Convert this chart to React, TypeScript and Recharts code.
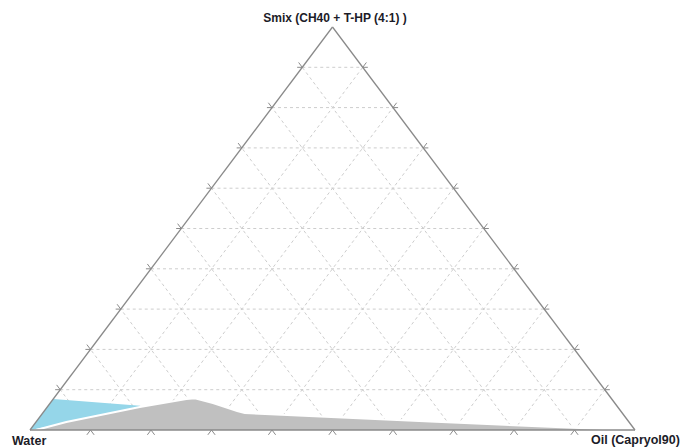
import React from 'react';
import { ScatterChart, Scatter, XAxis, YAxis } from 'recharts';

// ternary grid / tick levels (fractions of each component)
const levels = [0.1, 0.2, 0.3, 0.4, 0.5, 0.6, 0.7, 0.8, 0.9];

// region outlines, as % oil and % Smix (water = rest)
const grayOil = [1, 5, 15.3, 22, 23.3, 26.9, 31.9, 33.4, 65.1, 98.7];
const graySmix = [0, 2, 5.7, 7.7, 7.9, 6.7, 4.7, 4.2, 2.1, 0];
const blueOil = [0, 0, 15.2, 15.6, 6.4];
const blueSmix = [0, 7.7, 6.0, 5.6, 2.1];

const WATER_LABEL = 'Water';
const OIL_LABEL = 'Oil (Capryol90)';
const SMIX_LABEL = 'Smix (CH40 + T-HP (4:1) )';

type Pt = { x: number; y: number };

// oil / smix fractions -> cartesian (water at origin, oil at x=1, smix apex at y=1)
const tern = (oil: number, smix: number): Pt => ({ x: oil + smix / 2, y: smix });

const region = (oil: number[], smix: number[]) => oil.map((o, i) => tern(o / 100, smix[i] / 100));

const edgePts = [tern(0, 0), tern(1, 0), tern(1, 0), tern(0, 1), tern(0, 1), tern(0, 0)];

const gridPts = levels.flatMap((k) => [
  tern(0, k), tern(1 - k, k),
  tern(k, 0), tern(k, 1 - k),
  tern(1 - k, 0), tern(0, 1 - k),
]);

const TICK = 0.012;
const tickPts = levels.flatMap((k) => {
  const b = tern(k, 0);
  const l = tern(0, k);
  const r = tern(1 - k, k);
  return [
    b, { x: b.x - TICK / 2, y: -TICK }, b, { x: b.x + TICK / 2, y: -TICK },
    l, { x: l.x - TICK * 0.7, y: l.y }, l, { x: l.x - TICK / 2, y: l.y + TICK },
    r, { x: r.x + TICK * 0.7, y: r.y }, r, { x: r.x + TICK / 2, y: r.y + TICK },
  ];
});

// scatter "line" renderers: pairs of points -> segments, or a filled polygon
const segments = (stroke: string, width: number, dash?: string) => (p: any) => {
  const pts: Pt[] = p.points || [];
  const out = [];
  for (let i = 0; i + 1 < pts.length; i += 2) {
    out.push(
      <line key={i} x1={pts[i].x} y1={pts[i].y} x2={pts[i + 1].x} y2={pts[i + 1].y}
        stroke={stroke} strokeWidth={width} strokeDasharray={dash} />
    );
  }
  return <g>{out}</g>;
};

const polygon = (fill: string, edge?: string) => (p: any) => {
  const pts = (p.points || []).map((q: Pt) => `${q.x},${q.y}`).join(' ');
  return (
    <g>
      <polygon points={pts} fill={fill} stroke="none" />
      {edge && <polyline points={pts} fill="none" stroke={edge} strokeWidth={2} />}
    </g>
  );
};

const noDot = () => <g />;

const labelStyle: React.CSSProperties = {
  position: 'absolute',
  fontFamily: '"Liberation Sans", Arial, sans-serif',
  fontWeight: 'bold',
  fontSize: 12,
  lineHeight: '14px',
  color: '#1c1c28',
  whiteSpace: 'nowrap',
};

export default function App() {
  return (
    <div style={{ position: 'absolute', left: 0, top: 0, width: 680, height: 448, background: '#fff', overflow: 'hidden' }}>
      <ScatterChart width={680} height={448} margin={{ top: 18.94, right: 32.9, left: 17.9, bottom: 1.88 }}>
        <XAxis type="number" dataKey="x" domain={[-0.02, 1.02]} allowDataOverflow hide />
        <YAxis type="number" dataKey="y" domain={[-0.04, 1.02]} allowDataOverflow hide />
        <Scatter data={gridPts} line={segments('#cdcdcd', 1, '3 3')} lineType="joint" shape={noDot} isAnimationActive={false} />
        <Scatter data={region(blueOil, blueSmix)} line={polygon('#95d6e9')} lineType="joint" shape={noDot} isAnimationActive={false} />
        <Scatter data={region(grayOil, graySmix)} line={polygon('#c0c0c0', '#ffffff')} lineType="joint" shape={noDot} isAnimationActive={false} />
        <Scatter data={edgePts} line={segments('#8a8a8a', 1.3)} lineType="joint" shape={noDot} isAnimationActive={false} />
        <Scatter data={tickPts} line={segments('#8a8a8a', 1)} lineType="joint" shape={noDot} isAnimationActive={false} />
      </ScatterChart>
      <div style={{ ...labelStyle, left: 335, top: 11, transform: 'translateX(-50%)' }}>{SMIX_LABEL}</div>
      <div style={{ ...labelStyle, fontSize: 12.5, left: 12, top: 434 }}>{WATER_LABEL}</div>
      <div style={{ ...labelStyle, fontSize: 12.5, left: 591, top: 433 }}>{OIL_LABEL}</div>
    </div>
  );
}
